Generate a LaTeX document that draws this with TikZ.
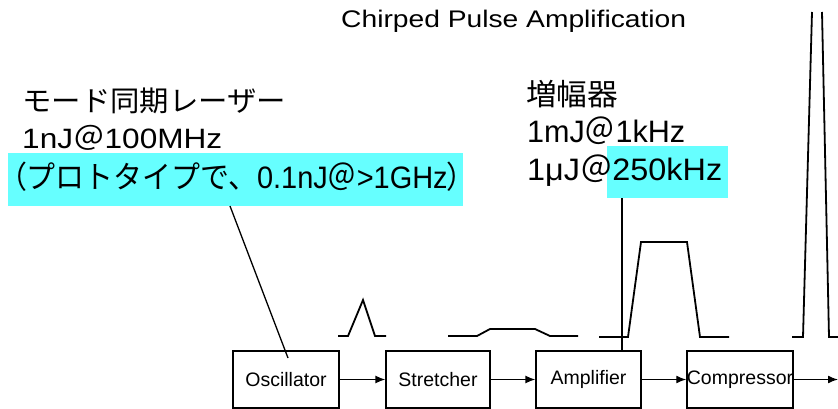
\documentclass[tikz,border=0pt]{standalone}
\usepackage{fontspec}
\setmainfont{Liberation Sans}
\newfontfamily\cjk{Noto Sans CJK JP}
\newfontfamily\cjkp[RawFeature=+palt]{Noto Sans CJK JP}
\usetikzlibrary{arrows.meta}
\definecolor{hl}{RGB}{102,255,255}
\newcommand{\fitw}[2]{\resizebox{#1}{\height}{#2}}
\begin{document}
\begin{tikzpicture}[x=1pt,y=-1pt,
  blockbox/.style={draw,line width=1.3pt,inner sep=0pt,minimum height=57pt,font=\fontsize{19.5}{22}\selectfont},
  flow/.style={line width=1.4pt,-{Latex[length=10pt,width=8pt]}},
  pulse/.style={line width=1.8pt,line join=miter},
  leader/.style={line width=1.3pt},
  txt/.style={anchor=base west,inner sep=0pt},
  hlbox/.style={fill=hl,inner sep=0pt,anchor=north west}]
\useasboundingbox (0,0) rectangle (838,409);
\fill[white] (0,0) rectangle (838,409);
% highlight boxes
\node[hlbox,minimum width=455pt,minimum height=53pt] (hlL) at (8,153) {};
\node[hlbox,minimum width=121pt,minimum height=52pt] (hlR) at (607,146) {};
% title
\node[txt] (title) at (341,28) {\fontsize{24}{27}\selectfont\fitw{345pt}{Chirped Pulse Amplification}};
% left text
\node[txt] (l1) at (22,112) {\fontsize{28.5}{32}\selectfont\fitw{264pt}{\cjk モード同期レーザー}};
\node[txt] (l2) at (22,149) {\fontsize{28}{32}\selectfont\fitw{200pt}{1nJ{\cjk ＠}100MHz}};
\node[txt] (l3) at (12,188) {\fontsize{31}{34}\selectfont\fitw{450pt}{{\cjkp （}{\cjk プロトタイプで、}0.1nJ{\cjk ＠}>1GHz{\cjkp ）}}};
% right text
\node[txt] (r1) at (526,106) {\fontsize{30}{32}\selectfont\fitw{92pt}{\cjk 増幅器}};
\node[txt] (r2) at (527,143) {\fontsize{31}{34}\selectfont\fitw{158pt}{1mJ{\cjk ＠}1kHz}};
\node[txt] (r3) at (527,181) {\fontsize{31}{34}\selectfont\fitw{195pt}{1μJ{\cjk ＠}250kHz}};
% blocks
\node[blockbox,minimum width=106pt] (osc) at (286,379.5) {Oscillator};
\node[blockbox,minimum width=104pt] (str) at (438,379.5) {Stretcher};
\node[blockbox,minimum width=105pt] (amp) at (588.5,379.5) {Amplifier};
\node[blockbox,minimum width=106pt] (cmp) at (740,379.5) {Compressor};
\coordinate (out) at (838,379.5);
\draw[flow] (osc.east) -- (str.west);
\draw[flow] (str.east) -- (amp.west);
\draw[flow] (amp.east) -- (cmp.west);
\draw[flow] (cmp.east) -- (out);
% leaders
\coordinate (lA) at (230,206);
\coordinate (lB) at (288,358);
\draw[leader] (lA) -- (lB);
\coordinate (vA) at (622,198);
\draw[leader] (vA) -- (vA |- amp.north);
% pulses
\draw[pulse] (338,336) -- (348,336) -- (363,300) -- (375,336) -- (386,336);
\draw[pulse] (448,336) -- (477,336) -- (490,329) -- (535,329) -- (550,336) -- (578,336);
\draw[pulse] (599,337) -- (628,337) -- (641,242) -- (687,242) -- (700,337) -- (729,337);
\draw[pulse] (792,337) -- (803,337) -- (812,12);
\draw[pulse] (822,12) -- (829,337) -- (838,337);
\end{tikzpicture}
\end{document}
